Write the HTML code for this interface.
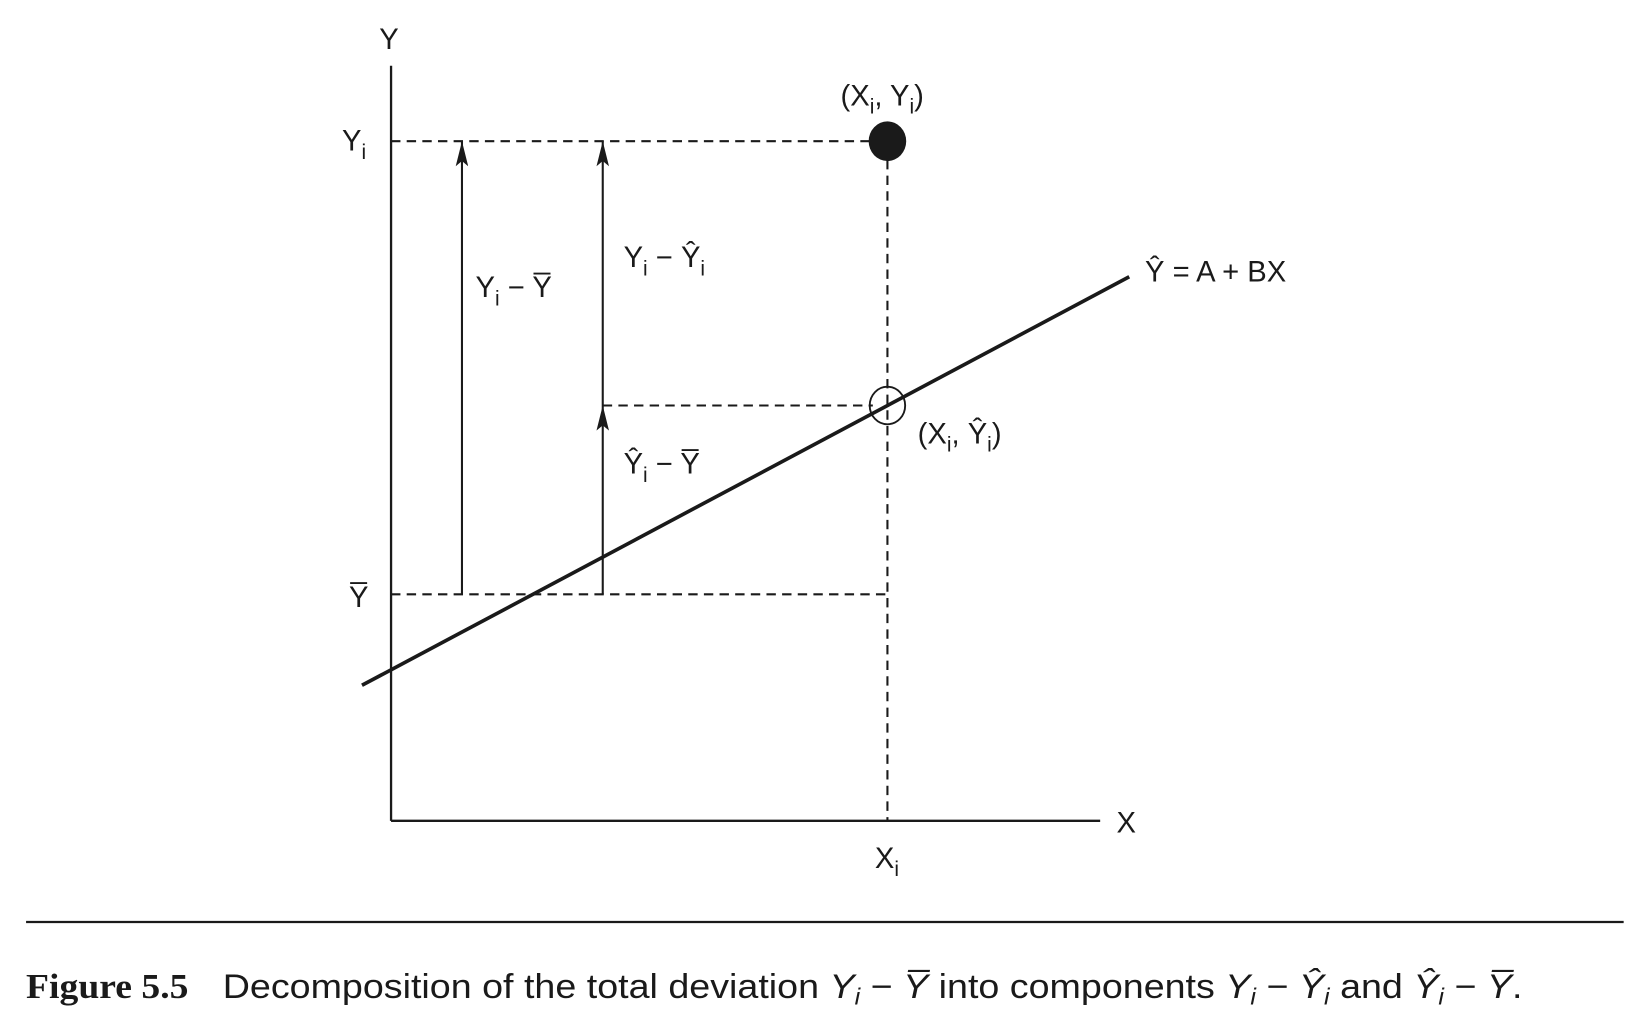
<!DOCTYPE html>
<html><head><meta charset="utf-8">
<style>
html,body{margin:0;padding:0;background:#fff;}
svg{display:block;}
text{font-family:"Liberation Sans",sans-serif;fill:#1a1a1a;}
.cap{font-family:"Liberation Sans Narrow","Liberation Sans",sans-serif;}
</style></head>
<body>
<svg id="chart" width="1632" height="1019" viewBox="0 0 1565 977" preserveAspectRatio="none" xmlns="http://www.w3.org/2000/svg">
<defs>
<marker id="ah" viewBox="0 0 24 12" refX="24" refY="6" markerWidth="24" markerHeight="12" markerUnits="userSpaceOnUse" orient="auto">
<path d="M0,0 L24,6 L0,12 L5,6 z" fill="#1a1a1a"/>
</marker>
</defs>
<g id="plot"></g>
<line x1="25" y1="884" x2="1557" y2="884" stroke="#1a1a1a" stroke-width="2.2"/>
<text class="cap" x="25" y="957" font-size="33" textLength="1435" lengthAdjust="spacingAndGlyphs"><tspan font-weight="bold" font-family="Liberation Serif, serif">Figure 5.5</tspan><tspan dx="30">Decomposition of the total deviation </tspan><tspan font-style="italic">Y</tspan><tspan font-style="italic" font-size="22" dy="6">i</tspan><tspan dy="-6"> − </tspan><tspan font-style="italic">Y̅</tspan><tspan> into components </tspan><tspan font-style="italic">Y</tspan><tspan font-style="italic" font-size="22" dy="6">i</tspan><tspan dy="-6"> − </tspan><tspan font-style="italic">Ŷ</tspan><tspan font-style="italic" font-size="22" dy="6">i</tspan><tspan dy="-6"> and </tspan><tspan font-style="italic">Ŷ</tspan><tspan font-style="italic" font-size="22" dy="6">i</tspan><tspan dy="-6"> − </tspan><tspan font-style="italic">Y̅</tspan><tspan>.</tspan></text>
</svg>
<script>
// data (abstract units)
const xDomain = [0, 10];
const yDomain = [0, 10];
const pointXi = [7];
const pointYi = [9];
const meanY = [3];
const lineA = [2];
const lineB = [0.5];
const lineXRange = [-0.41, 10.41];

const ox = 375, oy = 787, xr = 1055, yt = 63;
const sx = v => ox + (v - xDomain[0]) / (xDomain[1] - xDomain[0]) * (xr - ox);
const sy = v => oy - (v - yDomain[0]) / (yDomain[1] - yDomain[0]) * (oy - yt);
const NS = "http://www.w3.org/2000/svg";
const g = document.getElementById('plot');
function mk(tag, attrs) { const e = document.createElementNS(NS, tag); for (const k in attrs) e.setAttribute(k, attrs[k]); g.appendChild(e); return e; }

const Xi = pointXi[0], Yi = pointYi[0], Yb = meanY[0];
const Yh = lineA[0] + lineB[0] * Xi;
const px = sx(Xi), pyi = sy(Yi), pyb = sy(Yb), pyh = sy(Yh);
const arrowX1 = 443, arrowX2 = 578;
const dash = {stroke: '#1a1a1a', 'stroke-width': 2, 'stroke-dasharray': '9 6', fill: 'none'};

let e;
e = mk('line', {x1: ox, y1: yt, x2: ox, y2: oy, stroke: '#1a1a1a', 'stroke-width': 2.2});


e = mk('line', {x1: ox, y1: oy, x2: xr, y2: oy, stroke: '#1a1a1a', 'stroke-width': 2.2});



e = mk('line', Object.assign({x1: ox, y1: pyi, x2: px - 16, y2: pyi}, dash));


e = mk('line', Object.assign({x1: arrowX2, y1: pyh, x2: px - 14, y2: pyh}, dash));


e = mk('line', Object.assign({x1: ox, y1: pyb, x2: px, y2: pyb}, dash));


e = mk('line', Object.assign({x1: px, y1: pyi + 18, x2: px, y2: oy}, dash));



e = mk('line', {x1: sx(lineXRange[0]), y1: sy(lineA[0] + lineB[0] * lineXRange[0]), x2: sx(lineXRange[1]), y2: sy(lineA[0] + lineB[0] * lineXRange[1]), stroke: '#1a1a1a', 'stroke-width': 3.5});



e = mk('line', {x1: arrowX1, y1: pyb, x2: arrowX1, y2: pyi, stroke: '#1a1a1a', 'stroke-width': 2, 'marker-end': 'url(#ah)'});


e = mk('line', {x1: arrowX2, y1: pyh, x2: arrowX2, y2: pyi, stroke: '#1a1a1a', 'stroke-width': 2, 'marker-end': 'url(#ah)'});


e = mk('line', {x1: arrowX2, y1: pyb, x2: arrowX2, y2: pyh, stroke: '#1a1a1a', 'stroke-width': 2, 'marker-end': 'url(#ah)'});



e = mk('ellipse', {cx: px, cy: pyi, rx: 18, ry: 19, fill: '#1a1a1a'});


e = mk('ellipse', {cx: px, cy: pyh, rx: 17, ry: 18, fill: 'none', stroke: '#1a1a1a', 'stroke-width': 1.8});



// parts: strings = normal text, arrays = subscript
function label(parts, x, y, name, size, anchor) {
  const t = mk('text', {x: x, y: y, 'font-size': size || 28, 'text-anchor': anchor || 'start'});
  let html = '', lowered = false;
  parts.forEach(p => {
    if (Array.isArray(p)) { html += `<tspan font-size="20" dy="8">${p[0]}</tspan>`; lowered = true; }
    else { html += `<tspan${lowered ? ' dy="-8"' : ''}>${p}</tspan>`; lowered = false; }
  });
  t.innerHTML = html;
  
  
  return t;
}
label(['Y'], 373, 47, 'y-axis-title', 28, 'middle');
label(['X'], 1080, 798, 'x-axis-title', 28, 'middle');
label(['Y', ['i']], 328, pyi + 9, 'yi-tick-label');
label(['Y̅'], 344, pyb + 12, 'ybar-tick-label', 28, 'middle');
label(['X', ['i']], px - 12, 832, 'xi-tick-label');
label(['(X', ['i'], ', Y', ['i'], ')'], 846, 101, 'observed-point-label', 28, 'middle');
label(['(X', ['i'], ', Ŷ', ['i'], ')'], 880, 425, 'fitted-point-label');
label(['Y', ['i'], ' − Y̅'], 456, 285, 'total-deviation-label');
label(['Y', ['i'], ' − Ŷ', ['i']], 598, 256, 'residual-label');
label(['Ŷ', ['i'], ' − Y̅'], 598, 454, 'explained-label');
label(['Ŷ = A + BX'], 1098, 270, 'regression-equation-label');
</script>
</body></html>
